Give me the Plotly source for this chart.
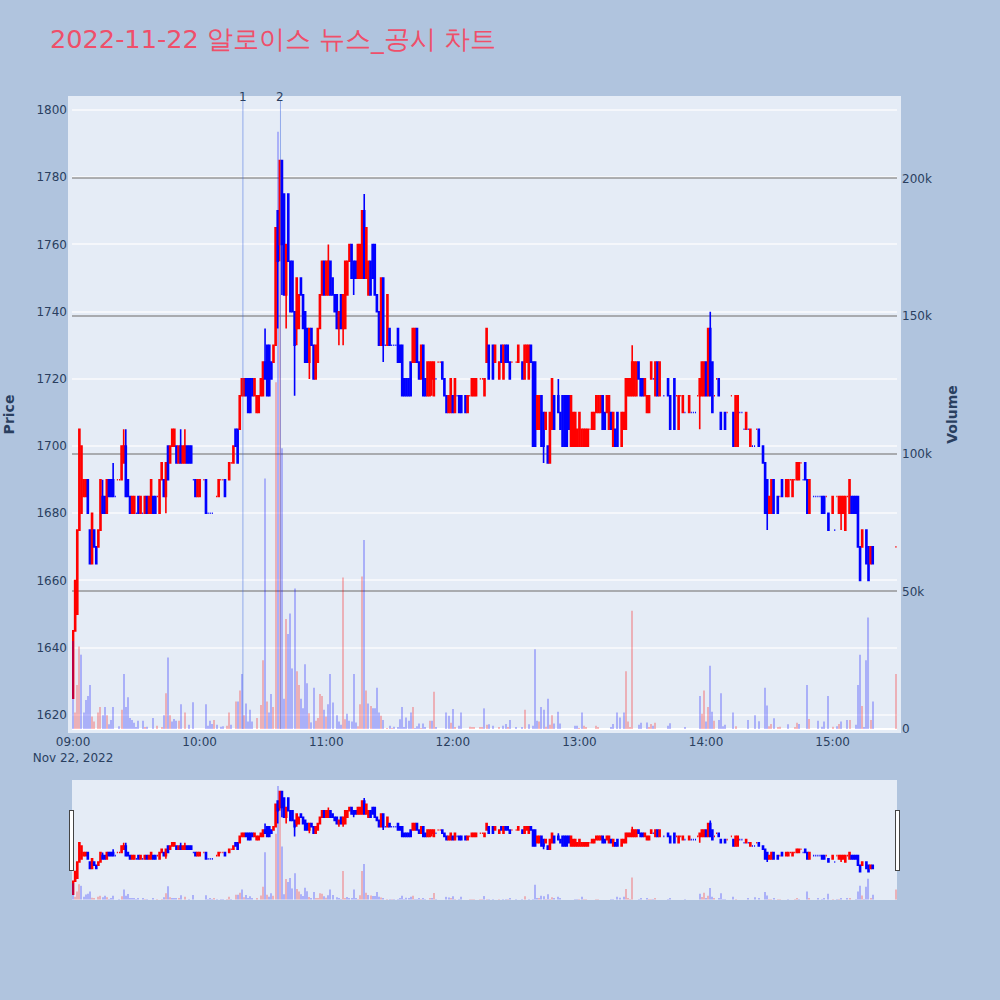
import datetime as dt
import plotly.graph_objects as go

N = None
SESSION_START = dt.datetime(2022, 11, 22, 9, 0)

# One value per minute after 09:00 (None = no trade in that minute)
opens = [
 1625,1645,1650,1675,1680,1685,1685,1690,1675,1665,
 1675,1670,1670,1675,1685,1685,1680,1690,1690,1690,
 1685,1690,1690,1690,1695,1700,1690,1685,1680,1680,
 1680,1685,1680,1680,1680,1685,1680,1680,1685,1685,
 1685,1680,1690,1690,1685,1700,1695,1700,1700,1700,
 1695,1700,1695,1695,1700,1700,1700,1690,1690,1685,
 1685,N,1690,1690,1680,1680,1680,N,1685,1685,
 1690,1690,1690,N,1690,1695,1695,1705,1705,1705,
 1715,1715,1720,1720,1720,1720,1715,1710,1710,1715,
 1715,1725,1730,1730,1725,1725,1730,1770,1760,1785,
 1775,1745,1775,1755,1755,1740,1735,1735,1750,1745,
 1740,1735,1725,1735,1730,1720,1725,1735,1745,1755,
 1745,1745,1755,1750,1745,1745,1735,1745,1735,1735,
 1745,1755,1760,1755,1755,1750,1750,1750,1770,1750,
 1745,1755,1760,1760,1745,1740,1730,1750,1730,1730,
 1735,1730,1730,1730,1735,1730,1730,1720,1720,1720,
 1725,1725,1725,1735,1725,1720,1730,1720,1715,1715,
 1720,1715,1720,1725,1725,1725,1720,1715,1710,1710,
 1715,1710,1715,1715,1715,N,1715,1710,1715,1715,
 1715,1715,N,1720,1720,1715,1725,1730,N,1730,
 1725,N,1720,1730,1720,1730,1730,1725,1725,N,
 1725,1725,N,1725,1720,1725,1720,1730,1725,1725,
 1705,1705,1715,1710,1705,1700,1695,1705,1715,N,
 1715,1710,1715,1715,1715,1715,1700,1700,1700,1700,
 1700,1700,1700,1700,1700,1705,1705,1705,1710,1710,
 1710,1715,1710,1710,1705,1710,1700,1705,1710,N,
 1700,1705,1705,1715,1715,1715,1715,1715,1725,1720,
 1720,1715,1710,1710,1720,1720,1715,1725,1715,N,
 1715,N,1720,1715,N,1720,1715,1705,1715,1710,
 1710,N,1710,1710,1710,1710,1715,1715,1715,1715,
 1725,1715,1735,1725,1715,1720,1720,1710,N,1710,
 1710,N,1715,1710,1700,1700,1710,1710,1705,1705,
 1705,1700,1700,1700,1705,1705,N,1700,1695,1690,
 1680,1680,1690,N,1685,1685,1690,N,1685,1685,
 1690,1685,1690,1690,1690,1695,1690,1695,1690,1680,
 N,1685,1685,1685,1685,1685,1685,1685,1680,N,
 1680,1675,1685,1680,1680,1680,1675,1685,1680,1685,
 1685,1685,1685,1670,1670,N,1675,1670,1665,1670,
 N,N,N,N,N,N,N,N,N,N,
 1670,
]
closes = [
 1645,1660,1675,1705,1700,1690,1690,1680,1665,1680,
 1670,1665,1675,1690,1680,1680,1690,1685,1685,1685,
 1685,1690,1690,1700,1700,1685,1685,1680,1685,1685,
 1680,1680,1685,1680,1685,1680,1685,1690,1680,1680,
 1685,1690,1695,1685,1695,1690,1700,1705,1705,1695,
 1700,1695,1700,1700,1695,1695,1695,1690,1685,1690,
 1690,N,1690,1680,1680,1680,1680,N,1685,1690,
 1690,1690,1685,N,1695,1695,1700,1700,1695,1715,
 1720,1720,1715,1710,1710,1715,1720,1715,1715,1720,
 1725,1720,1715,1715,1720,1730,1765,1755,1785,1760,
 1745,1760,1755,1740,1740,1730,1750,1745,1745,1735,
 1725,1725,1735,1730,1720,1730,1735,1745,1755,1745,
 1755,1755,1745,1745,1740,1735,1740,1735,1745,1755,
 1755,1760,1750,1750,1750,1760,1760,1770,1750,1765,
 1755,1745,1750,1745,1740,1730,1750,1730,1730,1745,
 1730,1730,1730,1730,1725,1725,1715,1715,1715,1715,
 1715,1735,1735,1725,1720,1730,1715,1715,1725,1725,
 1725,1725,1720,1725,1725,1720,1715,1710,1715,1720,
 1710,1720,1715,1710,1710,N,1710,1715,1715,1720,
 1720,1720,N,1720,1720,1720,1735,1720,N,1720,
 1730,N,1725,1725,1730,1725,1725,1720,1725,N,
 1725,1730,N,1720,1730,1730,1730,1725,1700,1700,
 1715,1715,1700,1700,1710,1695,1710,1720,1705,N,
 1710,1705,1700,1700,1700,1705,1715,1710,1710,1705,
 1710,1705,1705,1705,1705,1705,1710,1710,1715,1715,
 1715,1705,1705,1715,1715,1705,1710,1700,1700,N,
 1710,1710,1720,1720,1720,1725,1725,1725,1720,1715,
 1715,1720,1715,1715,1725,1720,1725,1715,1725,N,
 1715,N,1715,1705,N,1705,1715,1715,1715,1715,
 1710,N,1715,1710,1710,1710,1715,1720,1725,1725,
 1715,1735,1715,1710,1715,1720,1715,1705,N,1705,
 1710,N,1715,1700,1715,1715,1710,1710,1705,1710,
 1705,1705,1700,1700,1705,1700,N,1695,1680,1680,
 1685,1690,1680,N,1680,1685,1685,N,1690,1690,
 1690,1690,1690,1695,1695,1695,1690,1690,1680,1690,
 N,1685,1685,1685,1685,1680,1680,1685,1675,N,
 1685,1675,1685,1685,1685,1685,1685,1685,1690,1680,
 1680,1680,1670,1660,1675,N,1665,1660,1670,1665,
 N,N,N,N,N,N,N,N,N,N,
 1670,
]
# Wicks that stick out beyond the candle body: minute -> price
upper_wicks = {14:1690, 19:1695, 24:1705, 25:1705, 51:1705, 53:1705, 91:1735, 121:1760,
               138:1775, 230:1720, 265:1730, 302:1740}
lower_wicks = {44:1680, 97:1735, 98:1755, 99:1745, 101:1735, 105:1715, 106:1730, 112:1720,
               126:1730, 128:1730, 133:1745, 147:1725, 170:1715, 223:1695, 297:1705,
               329:1675, 364:1675}
# Thousands of shares; positive bars are red, negative bars are blue
signed_volumes_k = [
 -32,6,16,30,-27,-6,-10.5,-12,-16,4.5,
 2.7,0,6,8,-5,-8,5,-1.7,-3.3,-8,
 0,0,-1,7,-20,-8,-11.5,-4,-3.3,-2.3,
 -0.6,-3,0,-3,0.6,-0.8,0,0,-4,0,
 1.2,0,0.6,-5,13,-26,5,-2.7,-3.6,-3,
 3,-9,0,6,0,-1.5,0,-9.7,0,0,
 0,0,0,-9,-1.2,-3,-1.8,3.3,-1.5,0,
 -0.8,-1,0,1.2,6,-1.5,0,10,-10,14,
 -20,5,-9.3,-2.7,-7,-2.7,0,4,0,8.7,
 25,-91,10,-6,-12.7,8,126,-217,170,-102,
 -11,40,-34.5,-42,-22,-51,21,16,-11,-7.5,
 -23.5,-16.6,5.7,-2.4,-15,3,4,12.7,12,-7,
 4.5,-9,-20,-9.6,0,-5,-2.7,-1.5,55,3.5,
 -5.5,-3,-2.7,-20,-2.4,1,9,55.4,-68.7,14,
 -9.3,8.4,-7.5,-7.5,-15,-6,4.8,-3.3,0,0.3,
 -1.2,0.3,-0.8,0,-0.6,-3.5,-8,-0.6,-4.2,-3,
 -6,8,-0.3,-1,-2,0.3,-2,-0.4,0,3,
 -3,13.5,-0.4,0,0,0,0,-6,-4.8,2.3,
 -7.3,0.6,0,-1.2,-6,0,0,0,0.8,0.5,
 0.5,0,0,0.6,0.6,-7.5,1.5,-1.7,0,-1.2,
 0,0,0.6,0,-1.2,-1.8,0.6,-3.3,0,0,
 -0.6,0,0,-0.6,7,0,-1.7,0,-1.2,-29,
 -3,2.7,-8,-7,0.8,-11,1.5,5,-2,0,
 -6.3,-2,0,0,0,0,0,0,-1.2,-1.2,
 0.3,-6,1.2,0.6,0,0,0,0,1.2,0.6,
 0,0,0,0,0,-0.6,-1.8,0,-6,-4.2,
 0,-6,21,2.7,0.6,43,0,0,-1.5,-2.3,
 0,0,-2.4,0.4,1.8,-1.2,2.3,0,0,0,
 0,0,-1.2,-2.1,0,0,0,0,0,0,
 -0.6,0,0,0,0,0,0,-12,5.5,14,
 -2.7,8,-23,-6.3,3,0,-3.3,-13,-1,-1.5,
 0,0,0,-6,1,0,0,0,0,0,
 -3.3,0,0,-5,0,-2.8,0,0,-15,-8.5,
 1,1.8,-3.9,0,0.6,0.8,0,0,0,-1.7,
 0,0,0.5,2.3,-1.8,0,0,0,-16,3.6,
 0,0,0,-3,0,-0.8,-2.7,0,-12,0,
 0.8,0,-1,1.8,-2.7,0,0,-3.3,3.3,0,
 0,-1.5,-16,-27,8.4,-0.6,-25,-40.5,3.3,-10,
 0,0,0,0,0,0,0,0,0,0,
 20,
]
# News / disclosure events: label -> minutes after 09:00
event_labels = ["1", "2"]
event_minutes = [80.5, 98.3]

TITLE = "2022-11-22 알로이스 뉴스_공시 차트"
UP, DOWN = "red", "blue"

times = [SESSION_START + dt.timedelta(minutes=i) for i in range(len(opens))]
highs = [None if o is None else upper_wicks.get(i, max(o, c)) for i, (o, c) in enumerate(zip(opens, closes))]
lows = [None if o is None else lower_wicks.get(i, min(o, c)) for i, (o, c) in enumerate(zip(opens, closes))]
volumes = [abs(v) * 1000 for v in signed_volumes_k]
volume_colors = [UP if v > 0 else DOWN for v in signed_volumes_k]

fig = go.Figure()
fig.add_trace(go.Candlestick(
    x=times, open=opens, high=highs, low=lows, close=closes, yaxis="y",
    increasing=dict(line=dict(color=UP, width=1.6), fillcolor=UP),
    decreasing=dict(line=dict(color=DOWN, width=1.6), fillcolor=DOWN),
    showlegend=False,
))
fig.add_trace(go.Bar(
    x=times, y=volumes, yaxis="y2", marker=dict(color=volume_colors, line=dict(width=0)),
    opacity=0.25, showlegend=False,
))

shapes, annotations = [], []
for label, minute in zip(event_labels, event_minutes):
    when = SESSION_START + dt.timedelta(minutes=minute)
    shapes.append(dict(type="line", x0=when, x1=when, xref="x", y0=0, y1=1, yref="paper",
                       line=dict(color="royalblue", width=1), opacity=0.5))
    annotations.append(dict(x=when, xref="x", y=1, yref="paper", text=label, showarrow=False,
                            yanchor="middle", yshift=3, font=dict(size=12)))

fig.update_layout(
    template="plotly",
    width=1000, height=1000,
    font=dict(family="DejaVu Sans"),
    paper_bgcolor="lightsteelblue",
    margin=dict(l=72, r=103, t=100, b=271, pad=4, autoexpand=False),
    title=dict(text=TITLE, x=0.05, y=0.97,
               font=dict(size=25.6, color="#EF4F6A")),
    bargap=0.5,
    shapes=shapes, annotations=annotations,
    xaxis=dict(
        range=[SESSION_START - dt.timedelta(seconds=30), SESSION_START + dt.timedelta(minutes=390, seconds=30)],
        rangeslider=dict(visible=True, thickness=0.19, bgcolor="#E5ECF6"),
        showgrid=False,
    ),
    yaxis=dict(title=dict(text="<b>Price</b>", standoff=22, font=dict(size=14)), range=[1615.8, 1803], side="left",
               gridcolor="rgba(255,255,255,0.6)", gridwidth=2, automargin=False, zeroline=False),
    yaxis2=dict(title=dict(text="<b>Volume</b>", standoff=20, font=dict(size=14)), range=[0, 228500], side="right",
                overlaying="y", gridcolor="rgba(128,128,128,0.6)", gridwidth=2, automargin=False),
)
fig.write_html("out.html", config={"displayModeBar": False},
               post_script="document.body.style.margin='0';")
